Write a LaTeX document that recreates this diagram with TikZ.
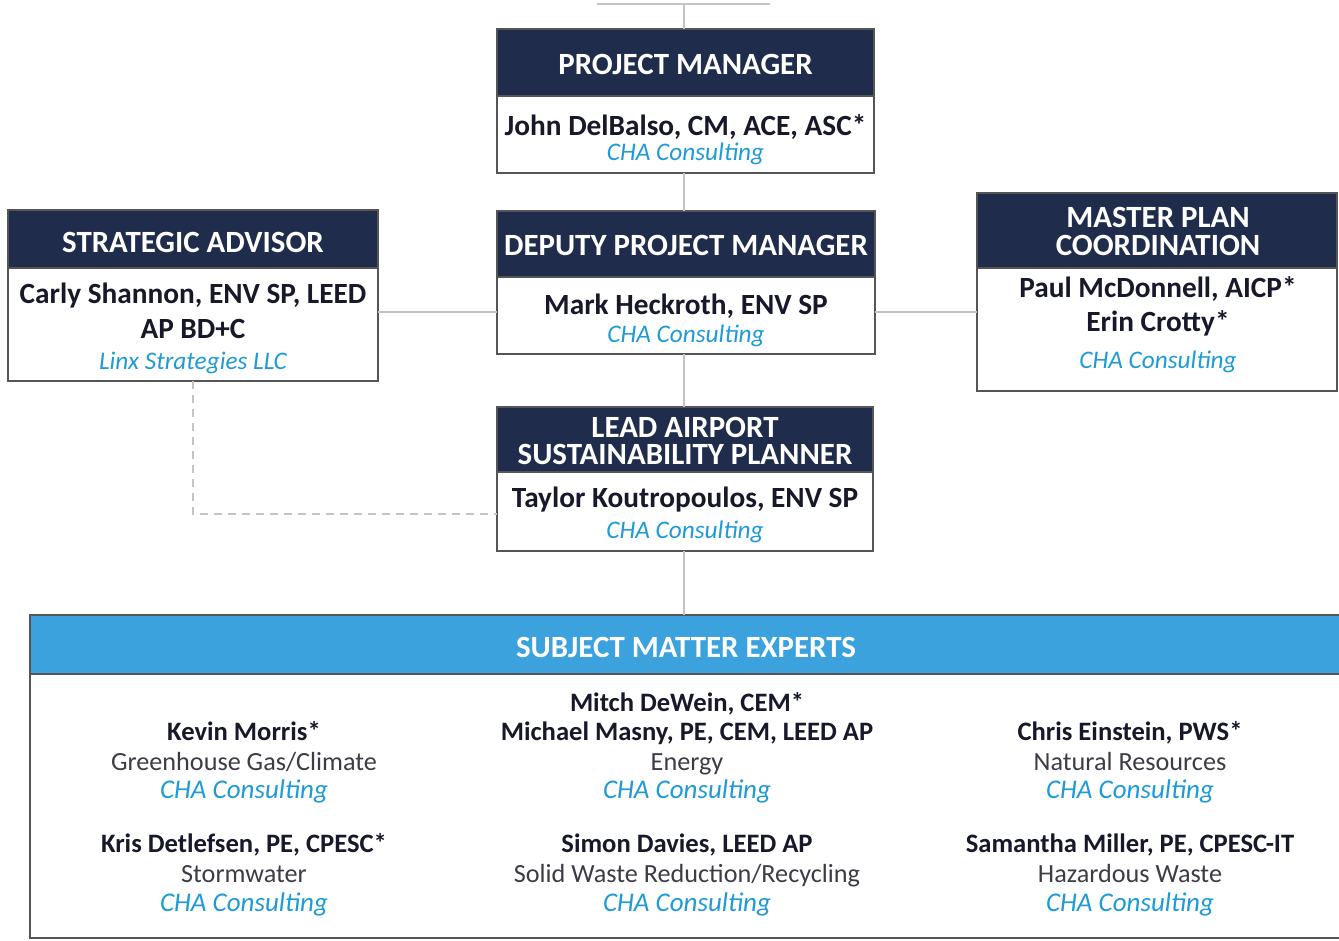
\documentclass[tikz,border=0pt]{standalone}
\usepackage{fontspec}
\setmainfont{Carlito}
\definecolor{navy}{HTML}{1F2C4C}
\definecolor{skyb}{HTML}{3BA2DE}
\definecolor{coblue}{HTML}{1E9BD7}
\definecolor{bordc}{HTML}{555555}
\definecolor{connc}{HTML}{C4C4C4}
\definecolor{ink}{HTML}{17182A}
\definecolor{rolec}{HTML}{3C3C46}
\begin{document}
\begin{tikzpicture}[x=1pt,y=-1pt,
  boxframe/.style={draw=bordc, line width=1.6pt, fill=white, anchor=north west, inner sep=0pt, outer sep=0pt},
  hdrfill/.style={fill=navy, draw=bordc, line width=1.6pt, anchor=north west, inner sep=0pt, outer sep=0pt},
  hdrtxt/.style={text=white, font=\fontsize{30.9}{27.5}\selectfont\bfseries, anchor=base, inner sep=0pt},
  nametxt/.style={text=ink, font=\fontsize{29.3}{29}\selectfont\bfseries, anchor=base, inner sep=0pt},
  cotxt/.style={text=coblue, font=\fontsize{25.3}{25}\selectfont\itshape, anchor=base, inner sep=0pt},
  smeco/.style={cotxt, font=\fontsize{27}{27}\selectfont\itshape},
  smename/.style={text=ink, font=\fontsize{26.6}{26}\selectfont\bfseries, anchor=base, inner sep=0pt},
  smerole/.style={text=rolec, font=\fontsize{26.2}{26}\selectfont, anchor=base, inner sep=0pt},
  link/.style={draw=connc, line width=1.2pt},
  dlink/.style={link, dash pattern=on 8pt off 6pt}]
\path[use as bounding box] (0,0) rectangle (1339,940);
\clip (0,0) rectangle (1339,940);

% ---------- boxes ----------
% Project manager
\node[boxframe, minimum width=377pt, minimum height=144pt] (pmb) at (497,29) {};
\node[hdrfill, minimum width=377pt, minimum height=67pt] (pmh) at (497,29) {};
% Strategic advisor
\node[boxframe, minimum width=370pt, minimum height=171pt] (sab) at (8,210) {};
\node[hdrfill, minimum width=370pt, minimum height=58pt] (sah) at (8,210) {};
% Deputy project manager
\node[boxframe, minimum width=378pt, minimum height=143pt] (dpmb) at (497,211) {};
\node[hdrfill, minimum width=378pt, minimum height=66pt] (dpmh) at (497,211) {};
% Master plan coordination
\node[boxframe, minimum width=360pt, minimum height=198pt] (mpcb) at (977,193) {};
\node[hdrfill, minimum width=360pt, minimum height=75pt] (mpch) at (977,193) {};
% Lead airport sustainability planner
\node[boxframe, minimum width=376pt, minimum height=144pt] (laspb) at (497,407) {};
\node[hdrfill, minimum width=376pt, minimum height=65pt] (lasph) at (497,407) {};
% Subject matter experts
\node[boxframe, minimum width=1315pt, minimum height=323pt] (smeb) at (30,615) {};
\node[hdrfill, fill=skyb, minimum width=1315pt, minimum height=59pt] (smeh) at (30,615) {};

% ---------- connectors ----------
\coordinate (topL) at (597,4);
\coordinate (topR) at (770,4);
\coordinate (topM) at (684,4);
\draw[link] (topL) -- (topR);
\draw[link] (topM) -- (topM |- pmb.north);
\draw[link] (pmb.south -| topM) -- (dpmb.north -| topM);
\draw[link] (sab.east |- 0,312) -- (dpmb.west |- 0,312);
\draw[link] (dpmb.east |- 0,312) -- (mpcb.west |- 0,312);
\draw[link] (dpmb.south -| topM) -- (laspb.north -| topM);
\draw[link] (laspb.south -| topM) -- (smeb.north -| topM);
\draw[dlink] (sab.south) -- (sab.south |- 0,514) -- (laspb.west |- 0,514);

% ---------- texts ----------
\node[hdrtxt] (pmt) at (685.5,74) {PROJECT MANAGER};
\node[nametxt] (pmn) at (685.5,135) {John DelBalso, CM, ACE, ASC*};
\node[cotxt] (pmc) at (685.5,160) {CHA Consulting};

\node[hdrtxt] (sat) at (193,252.5) {STRATEGIC ADVISOR};
\node[nametxt] (san1) at (193,303) {Carly Shannon, ENV SP, LEED};
\node[nametxt] (san2) at (193,338) {AP BD+C};
\node[cotxt] (sac) at (193,369) {Linx Strategies LLC};

\node[hdrtxt] (dpmt) at (686,255.5) {DEPUTY PROJECT MANAGER};
\node[nametxt] (dpmn) at (686,314) {Mark Heckroth, ENV SP};
\node[cotxt] (dpmc) at (686,342) {CHA Consulting};

\node[hdrtxt] (mpct) at (1158,255) {\begin{tabular}[b]{@{}c@{}}MASTER PLAN\\[-1pt]COORDINATION\end{tabular}};
\node[nametxt] (mpcn1) at (1158,297) {Paul McDonnell, AICP*};
\node[nametxt] (mpcn2) at (1158,331) {Erin Crotty*};
\node[cotxt] (mpcc) at (1158,368) {CHA Consulting};

\node[hdrtxt] (laspt) at (685,464.5) {\begin{tabular}[b]{@{}c@{}}LEAD AIRPORT\\[-2pt]SUSTAINABILITY PLANNER\end{tabular}};
\node[nametxt] (laspn) at (685,507) {Taylor Koutropoulos, ENV SP};
\node[cotxt] (laspc) at (685,538) {CHA Consulting};

\node[hdrtxt] (smet) at (686,657) {SUBJECT MATTER EXPERTS};

% left column
\node[smename] (e1n) at (244,740) {Kevin Morris*};
\node[smerole] (e1r) at (244,770) {Greenhouse Gas/Climate};
\node[smeco] (e1c) at (244,798) {CHA Consulting};
\node[smename] (e2n) at (244,852) {Kris Detlefsen, PE, CPESC*};
\node[smerole] (e2r) at (244,882) {Stormwater};
\node[smeco] (e2c) at (244,911) {CHA Consulting};
% centre column
\node[smename] (e3a) at (687,711) {Mitch DeWein, CEM*};
\node[smename] (e3n) at (687,740) {Michael Masny, PE, CEM, LEED AP};
\node[smerole] (e3r) at (687,770) {Energy};
\node[smeco] (e3c) at (687,798) {CHA Consulting};
\node[smename] (e4n) at (687,852) {Simon Davies, LEED AP};
\node[smerole] (e4r) at (687,882) {Solid Waste Reduction/Recycling};
\node[smeco] (e4c) at (687,911) {CHA Consulting};
% right column
\node[smename] (e5n) at (1130,740) {Chris Einstein, PWS*};
\node[smerole] (e5r) at (1130,770) {Natural Resources};
\node[smeco] (e5c) at (1130,798) {CHA Consulting};
\node[smename] (e6n) at (1130,852) {Samantha Miller, PE, CPESC-IT};
\node[smerole] (e6r) at (1130,882) {Hazardous Waste};
\node[smeco] (e6c) at (1130,911) {CHA Consulting};
\end{tikzpicture}
\end{document}
